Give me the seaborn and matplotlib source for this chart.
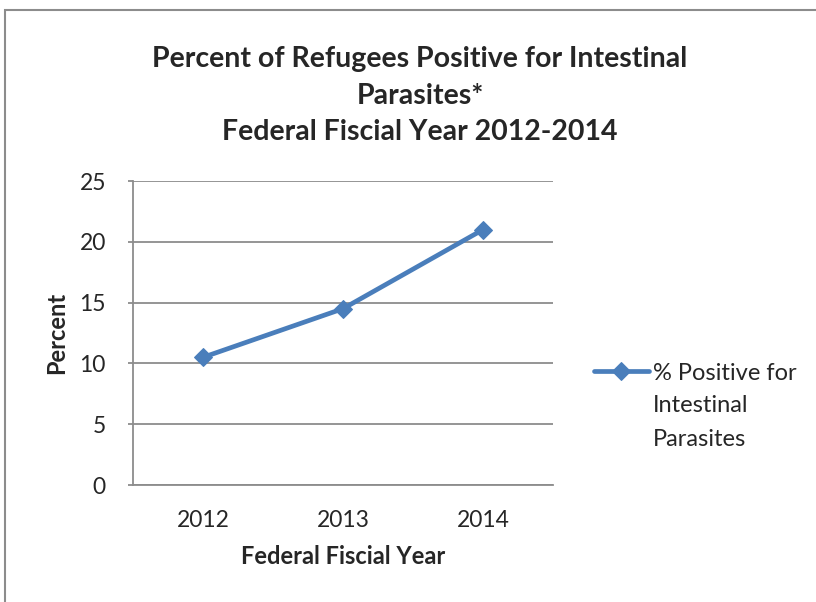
import pandas as pd
import matplotlib.pyplot as plt
import seaborn as sns
from matplotlib.patches import Rectangle

# Data: percent of refugees positive for intestinal parasites
years = ['2012', '2013', '2014']
percent_positive = [10.5, 14.5, 21.0]
series_first = '% Positive for'
series_rest = ['Intestinal', 'Parasites']

df = pd.DataFrame({'Year': years, 'Percent': percent_positive})

sns.set_style('white')
plt.rcParams['font.family'] = ['Lato', 'DejaVu Sans']

fig = plt.figure(figsize=(8.16, 6.02), dpi=100)
ax = fig.add_axes([133 / 816, 1 - 485 / 602, 420 / 816, 304 / 602])

sns.lineplot(data=df, x='Year', y='Percent', ax=ax, color='#4A7EBB',
             linewidth=3.4, marker='D', markersize=9.5, markeredgecolor='#4A7EBB',
             label=series_first, sort=False)

ax.set_xlim(-0.5, 2.5)
ax.set_ylim(0, 25)
ax.set_yticks([0, 5, 10, 15, 20, 25])
ax.grid(axis='y', color='#8c8c8c', linewidth=1.3)
ax.set_axisbelow(True)
for s in ['top', 'right']:
    ax.spines[s].set_visible(False)
ax.spines['left'].set_color('#8c8c8c')
ax.spines['left'].set_linewidth(1.3)
ax.spines['bottom'].set_color('#8c8c8c')
ax.spines['bottom'].set_linewidth(1.3)
ax.tick_params(axis='y', labelsize=16.5, pad=16, length=3.5, width=1.3,
               color='#8c8c8c', left=True)
ax.tick_params(axis='x', labelsize=16.5, pad=18, length=0)

ax.set_xlabel('Federal Fiscial Year', fontsize=17, fontweight='bold', labelpad=10)
ax.set_ylabel('Percent', fontsize=17, fontweight='bold', labelpad=8)

fig.text(420 / 816, 1 - 96 / 602,
         'Percent of Refugees Positive for Intestinal\nParasites*\nFederal Fiscial Year 2012-2014',
         ha='center', va='center', fontsize=20.5, fontweight='bold', linespacing=1.5)

leg = ax.legend(loc='center left', bbox_to_anchor=(1.07, 1 - (373 - 181) / 304), frameon=False,
                fontsize=17, handlelength=2.3, handletextpad=0.2, borderpad=0)

# continuation lines of the legend label, aligned under the first line
fig.canvas.draw()
tb = leg.get_texts()[0].get_window_extent()
cy = (tb.y0 + tb.y1) / 2
for i, line in enumerate(series_rest):
    fig.text(tb.x0 / 816, (cy - 33 * (i + 1)) / 602, line, ha='left', va='center',
             fontsize=17)

# outer chart frame
fig.patches.append(Rectangle((5 / 816, -0.05), 1.1, 1 - 10 / 602 + 0.05,
                             transform=fig.transFigure, fill=False,
                             edgecolor='#8c8c8c', linewidth=1.5))

fig.savefig('out.png', dpi=100)
